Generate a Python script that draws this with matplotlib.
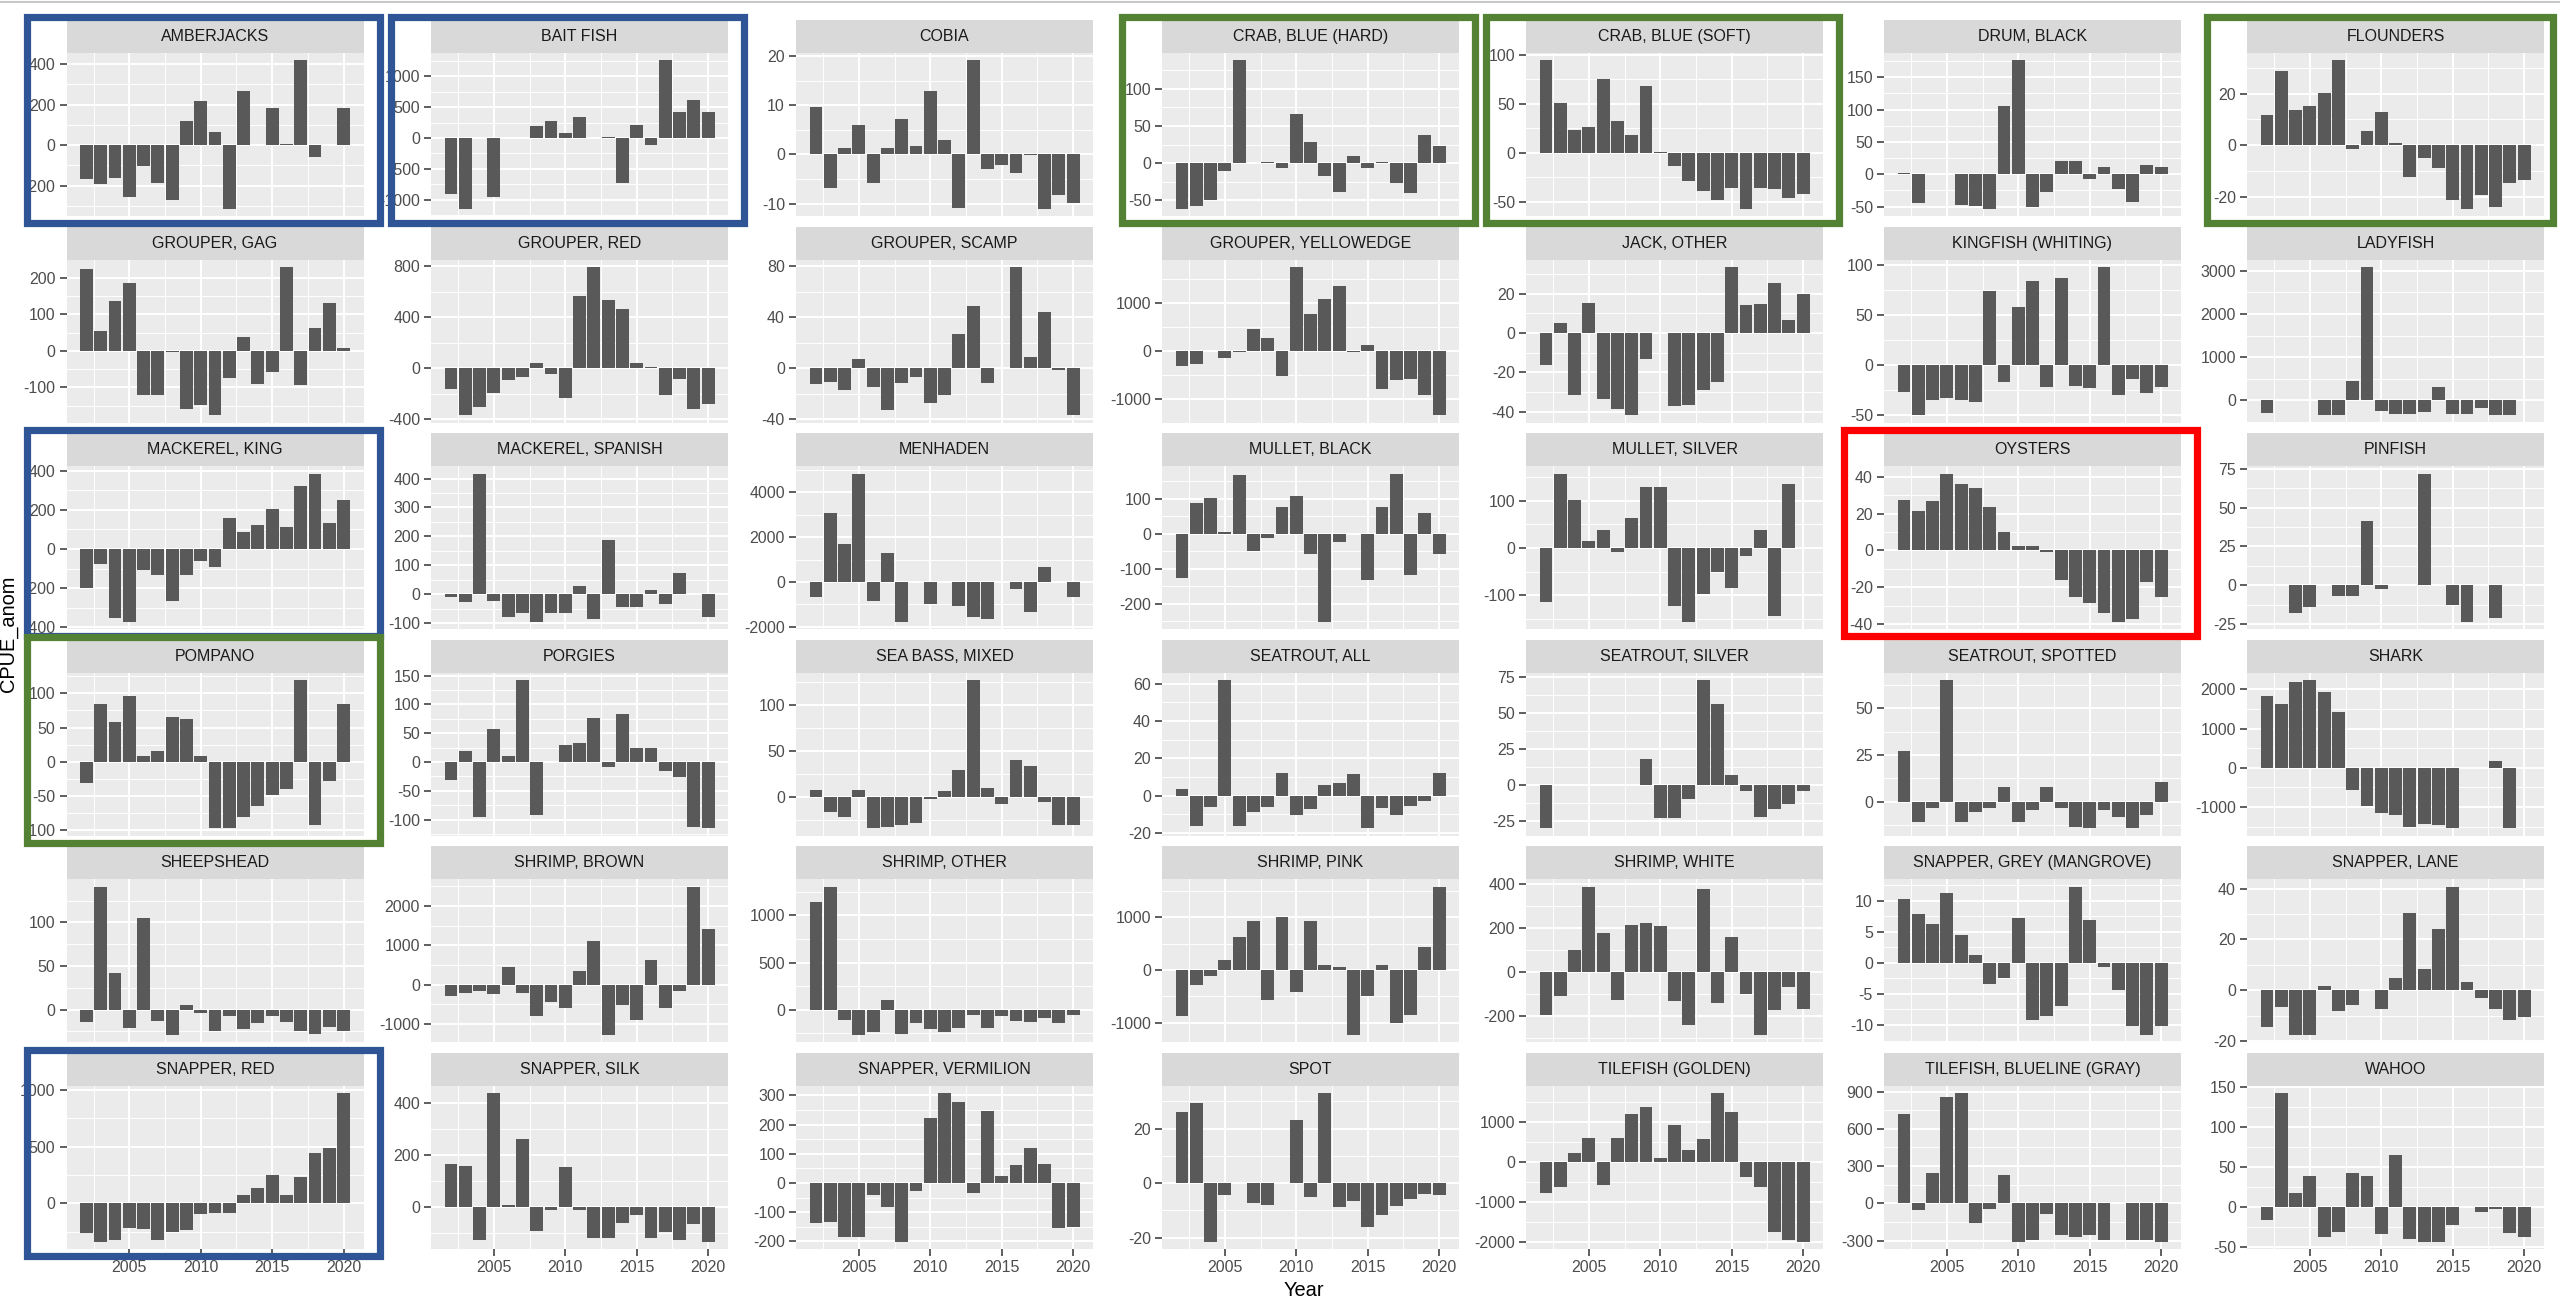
import matplotlib.pyplot as plt
import numpy as np
from matplotlib.patches import Rectangle
from matplotlib.lines import Line2D
from matplotlib.ticker import MultipleLocator, FixedLocator, FuncFormatter

plt.rcParams['font.family'] = ['Liberation Sans', 'DejaVu Sans']
plt.rcParams['axes.unicode_minus'] = False

NA = np.nan
years = list(range(2002, 2021))

amberjacks = [-168, -193, -160, -257, -105, -185, -272, 117, 218, 67, -313, 267, NA, 182, 5, 418, -57, NA, 182]
bait_fish = [-907, -1142, NA, -962, NA, NA, 191, 268, 87, 344, NA, 25, -721, 218, -115, 1257, 426, 623, 426]
cobia = [9.6, -6.8, 1.4, 6.0, -5.8, 1.4, 7.3, 1.7, 12.9, 3.0, -10.9, 19.1, -2.9, -2.1, -3.8, -0.2, -11.0, -8.2, -9.8]
crab_blue_hard = [-61, -58, -49, -11, 138, NA, 1.5, -7, 66, 28, -17, -39, 9, -7, 1, -26, -40, 38, 23]
crab_blue_soft = [94.5, 51.4, 23.1, 26.2, 75.5, 32.1, 18.6, 68.6, 1, -13.8, -28.6, -39, -48.3, -36.2, -56.9, -36.2, -37.2, -46.5, -41.7]
drum_black = [2, -45, NA, NA, -47, -49, -53, 106, 176, -51, -28, 20, 20, -7, 11.5, -23, -43, 13.6, 11.5]
flounders = [11.8, 28.8, 13.5, 15.2, 20.3, 32.8, -1.3, 5.7, 12.9, 0.9, -12.1, -4.7, -8.6, -21.1, -24.4, -19.3, -23.7, -14.7, -13.2]
grouper_gag = [223, 54, 137, 184, -121, -121, -2, -160, -147, -176, -74, 37, -91, -58, 229, -94, 63, 131, 9]
grouper_red = [-163, -367, -302, -192, -92, -66, 39, -45, -231, 567, 795, 533, 467, 39, 13, -210, -84, -320, -281]
grouper_scamp = [-12, -10.8, -16.8, 7.3, -14.4, -32.3, -11.8, -6.6, -26.8, -21, 26.8, 49.3, -11.8, NA, 79.5, 9.2, 44.1, -1, -36.7]
grouper_yellowedge = [-315, -280, NA, -140, -20, 455, 280, -531, 1755, 783, 1084, 1364, -30, 126, -804, -615, -587, -923, -1343]
jack_other = [-16, 5.1, -31.5, 15.3, -33.7, -38.6, -41.7, -13.1, NA, -37.1, -36.6, -28.9, -24.7, 33.5, 14, 14.6, 25.4, 6.6, 19.9]
kingfish = [-26.7, -50, -35.3, -32.7, -35.3, -37, 73.3, -16.7, 57.7, 83.3, -22.3, 86.7, -20.7, -22.7, 97.7, -30.3, -14.3, -27.7, -22.3]
ladyfish = [-278, NA, NA, NA, -340, -340, 456, 3086, -240, -317, -317, -271, 317, -317, -317, -170, -340, -340, NA]
mackerel_king = [-197, -77, -350, -371, -106, -132, -263, -132, -63, -89, 156, 89, 121, 202, 111, 320, 385, 135, 251]
mackerel_spanish = [-10.5, -28, 417, -22, -78, -66, -95, -66, -66, 30, -84, 186, -45, -45, 15, -34, 72, NA, -77]
menhaden = [-687, 3090, 1687, 4836, -836, 1313, -1776, -20, -985, -20, -1075, -1552, -1672, NA, -299, -1328, 657, NA, -672]
mullet_black = [-127, 86, 102, 5, 167, -48, -11, 77, 106, -57, -251, -24, NA, -132, 77, 171, -119, 59, -57]
mullet_silver = [-114, 157, 101, 15, 37, -8, 64, 129, 129, -123, -156, -98, -50, -84, -17, 37, -144, 135, NA]
oysters = [27.4, 21.2, 26.7, 41.7, 36.1, 33.9, 23.8, 9.8, 2.5, 2.5, -1.1, -16, -25, -28.7, -34.1, -38.7, -37.2, -16.9, -25.4]
pinfish = [NA, NA, -18, -13.8, NA, -6.9, -6.9, 41.1, -2.4, NA, NA, 71.8, NA, -12.7, -23.4, NA, -20.9, NA, NA]
pompano = [-31, 85, 58, 96, 9, 16, 65, 63, 9, -97, -97, -80, -65, -48, -40, 119, -92, -28, 85]
porgies = [-31, 19, -95, 58, 11, 142, -92, NA, 30, 33, 77, -9, 83, 25, 25, -16, -26, -112, -115]
sea_bass = [7.3, -16.5, -22, 7.3, -34.4, -32.6, -31.1, -28.2, -2.6, 5.9, 29.3, 126.7, 9.5, -8.1, 39.9, 33.7, -5.5, -31.1, -31.1]
seatrout_all = [3.7, -16, -6.2, 61.8, -16, -8.8, -6.2, 12.3, -10.2, -7, 5.5, 7, 11.4, -17.5, -6.5, -10.2, -5.3, -2.6, 12.3]
seatrout_silver = [-29.8, NA, NA, NA, NA, NA, NA, 18.4, -22.6, -22.6, -9.6, 72.7, 55.9, 6.8, -3.7, -21.9, -16.5, -12.6, -3.7]
seatrout_spotted = [27, -10.8, -3.1, 64.9, -10.8, -5.4, -3.1, 8.1, -10.8, -4.5, 8.1, -3.1, -13.3, -14.2, -4.5, -8.1, -14.2, -7.2, 10.8]
shark = [1820, 1622, 2180, 2232, 1931, 1416, -567, -987, -1142, -1210, -1502, -1425, -1459, -1545, NA, NA, 163, -1545, NA]
sheepshead = [-14.7, 140.7, 41.9, -21.3, 105.4, -12.8, -29.1, 4.7, -3.9, -24.4, -7, -22.1, -15.5, -7.8, -14.3, -24.4, -28.3, -19.4, -24.4]
shrimp_brown = [-274, -214, -162, -231, 453, -214, -786, -427, -598, 342, 1120, -1274, -513, -889, 641, -598, -162, 2487, 1410]
shrimp_other = [1139, 1304, -111, -268, -232, 107, -254, -136, -200, -232, -196, -54, -196, -71, -118, -125, -93, -146, -54]
shrimp_pink = [-872, -295, -122, 199, 635, 923, -571, 1000, -423, 923, 103, 64, -1237, -487, 103, -1013, -859, 442, 1583]
shrimp_white = [-197, -108, 98, 385, 174, -128, 212, 220, 208, -134, -241, 373, -142, 156, -101, -287, -174, -70, -169]
snapper_grey = [10.2, 7.9, 6.2, 11.2, 4.5, 1.2, -3.4, -2.4, 7.2, -9.2, -8.5, -7.0, 12.2, 6.8, -0.6, -4.4, -10.1, -11.6, -10.1]
snapper_lane = [-14.4, -6.5, -17.6, -17.6, 1.5, -8.1, -5.7, NA, -7.2, 4.8, 30.3, 8.5, 24, 40.7, 3.4, -3.2, -7.2, -11.7, -10.7]
snapper_red = [-259, -338, -324, -215, -229, -324, -253, -235, -97, -82, -82, 71, 132, 247, 71, 232, 447, 485, 971]
snapper_silk = [165, 159, -126, 438, 8, 262, -91, -12, 155, -10, -119, -119, -59, -31, -119, -95, -126, -63, -132]
snapper_vermilion = [-136, -133, -184, -184, -41, -82, -201, -27, 224, 307, 278, -33, 247, 24, 61, 121, 66, -155, -150]
spot = [26.1, 29.2, -21.5, -4.5, NA, -7.4, -8, NA, 23.3, -5.2, 32.9, -8.8, -6.5, -16.3, -11.7, -8.6, -5.8, -4, -4.5]
tilefish_golden = [-770, -628, 234, 594, -586, 594, 1197, 1389, 109, 921, 301, 569, 1724, 1264, -368, -628, -1749, -1958, -2000]
tilefish_blueline = [716, -56, 247, 858, 885, -155, -43, 225, -308, -295, -88, -257, -268, -257, -295, NA, -295, -295, -308]
wahoo = [-16.3, 142.5, 18.3, 39.2, -37.1, -30.8, 42.5, 39.2, -33.8, 65, -39.2, -42.9, -42.9, -22.5, NA, -5.4, -2.5, -31.7, -37.1]

species = ["AMBERJACKS", "BAIT FISH", "COBIA", "CRAB, BLUE (HARD)", "CRAB, BLUE (SOFT)",
           "DRUM, BLACK", "FLOUNDERS", "GROUPER, GAG", "GROUPER, RED", "GROUPER, SCAMP",
           "GROUPER, YELLOWEDGE", "JACK, OTHER", "KINGFISH (WHITING)", "LADYFISH",
           "MACKEREL, KING", "MACKEREL, SPANISH", "MENHADEN", "MULLET, BLACK",
           "MULLET, SILVER", "OYSTERS", "PINFISH", "POMPANO", "PORGIES", "SEA BASS, MIXED",
           "SEATROUT, ALL", "SEATROUT, SILVER", "SEATROUT, SPOTTED", "SHARK", "SHEEPSHEAD",
           "SHRIMP, BROWN", "SHRIMP, OTHER", "SHRIMP, PINK", "SHRIMP, WHITE",
           "SNAPPER, GREY (MANGROVE)", "SNAPPER, LANE", "SNAPPER, RED", "SNAPPER, SILK",
           "SNAPPER, VERMILION", "SPOT", "TILEFISH (GOLDEN)", "TILEFISH, BLUELINE (GRAY)", "WAHOO"]

series = [amberjacks, bait_fish, cobia, crab_blue_hard, crab_blue_soft, drum_black, flounders,
          grouper_gag, grouper_red, grouper_scamp, grouper_yellowedge, jack_other, kingfish, ladyfish,
          mackerel_king, mackerel_spanish, menhaden, mullet_black, mullet_silver, oysters, pinfish,
          pompano, porgies, sea_bass, seatrout_all, seatrout_silver, seatrout_spotted, shark,
          sheepshead, shrimp_brown, shrimp_other, shrimp_pink, shrimp_white, snapper_grey, snapper_lane,
          snapper_red, snapper_silk, snapper_vermilion, spot, tilefish_golden, tilefish_blueline, wahoo]

# y break spacing for each facet (as in the picture)
y_step = [200, 500, 10, 50, 50, 50, 20,
          100, 400, 40, 1000, 20, 50, 1000,
          200, 100, 2000, 100, 100, 20, 25,
          50, 50, 50, 20, 25, 25, 1000,
          50, 1000, 500, 1000, 200, 5, 20,
          500, 200, 100, 20, 1000, 300, 50]

x_breaks = [2005, 2010, 2015, 2020]

blue_boxes = ["AMBERJACKS", "BAIT FISH", "MACKEREL, KING", "SNAPPER, RED"]
green_boxes = ["CRAB, BLUE (HARD)", "CRAB, BLUE (SOFT)", "FLOUNDERS", "POMPANO"]
red_boxes = ["OYSTERS"]

W, H = 2560, 1302
fig = plt.figure(figsize=(W / 100, H / 100), dpi=100)


def fx(px):
    return px / W


def fy(py):
    return 1 - py / H


ncol = 7
col_lefts = [66.5, 431, 796, 1162, 1526, 1884, 2247]
pan_w = 297
row_top0, row_pitch, strip_h, pan_h = 20, 206.6, 33, 163

span = (max(years) + 0.45) - (min(years) - 0.45)
xlo = min(years) - 0.45 - 0.05 * span
xhi = max(years) + 0.45 + 0.05 * span

fmt = FuncFormatter(lambda v, p: "%d" % round(v))

for i, (name, vals) in enumerate(zip(species, series)):
    r, c = divmod(i, ncol)
    left = col_lefts[c]
    top = row_top0 + r * row_pitch

    ax = fig.add_axes([fx(left), fy(top + strip_h + pan_h), pan_w / W, pan_h / H])
    ax.set_facecolor('#EBEBEB')
    ax.bar(years, vals, width=0.9, color='#595959', zorder=3)

    v = np.array(vals, dtype=float)
    lo = min(0, np.nanmin(v))
    hi = max(0, np.nanmax(v))
    pad = 0.05 * (hi - lo)
    ax.set_ylim(lo - pad, hi + pad)
    ax.set_xlim(xlo, xhi)

    ax.xaxis.set_major_locator(FixedLocator(x_breaks))
    ax.xaxis.set_minor_locator(FixedLocator([b - 2.5 for b in x_breaks]))
    ax.yaxis.set_major_locator(MultipleLocator(y_step[i]))
    ax.yaxis.set_minor_locator(MultipleLocator(y_step[i] / 2))
    ax.yaxis.set_major_formatter(fmt)

    ax.grid(which='major', color='white', lw=1.4)
    ax.grid(which='minor', color='white', lw=0.7)
    ax.set_axisbelow(True)
    for s in ax.spines.values():
        s.set_visible(False)

    ax.tick_params(which='minor', length=0)
    ax.tick_params(axis='y', which='major', length=5, width=1.1, color='#333333',
                   labelsize=11.5, labelcolor='#4D4D4D', pad=3)
    if r == 5:
        ax.tick_params(axis='x', which='major', length=5, width=1.1, color='#333333',
                       labelsize=11.5, labelcolor='#4D4D4D', pad=3)
    else:
        ax.tick_params(axis='x', which='major', length=0, labelbottom=False)

    sax = fig.add_axes([fx(left), fy(top + strip_h), pan_w / W, strip_h / H])
    sax.set_facecolor('#D9D9D9')
    sax.set_xticks([])
    sax.set_yticks([])
    for s in sax.spines.values():
        s.set_visible(False)
    sax.text(0.5, 0.5, name, ha='center', va='center', fontsize=11.5,
             color='#1A1A1A', transform=sax.transAxes)

    if name in blue_boxes or name in green_boxes or name in red_boxes:
        if name in blue_boxes:
            col = '#2F5597'
        elif name in green_boxes:
            col = '#548235'
        else:
            col = '#FF0000'
        bx0 = max(left - 40, 25)
        bx1 = min(left + 313, 2553)
        by0 = top - 3
        by1 = top + strip_h + pan_h + 7
        fig.add_artist(Rectangle((fx(bx0), fy(by1)), (bx1 - bx0) / W, (by1 - by0) / H,
                                 transform=fig.transFigure, fill=False, lw=5.2,
                                 edgecolor=col, zorder=10))

fig.add_artist(Line2D([0, 1], [fy(2), fy(2)], transform=fig.transFigure,
                      color='#C8C8C8', lw=1.5))

fig.text(fx(1304), fy(1290), 'Year', ha='center', va='center', fontsize=14.4, color='black')
fig.text(fx(9), fy(634), 'CPUE_anom', rotation=90, ha='center', va='center',
         fontsize=14.4, color='black')

fig.savefig('out.png', dpi=100)
